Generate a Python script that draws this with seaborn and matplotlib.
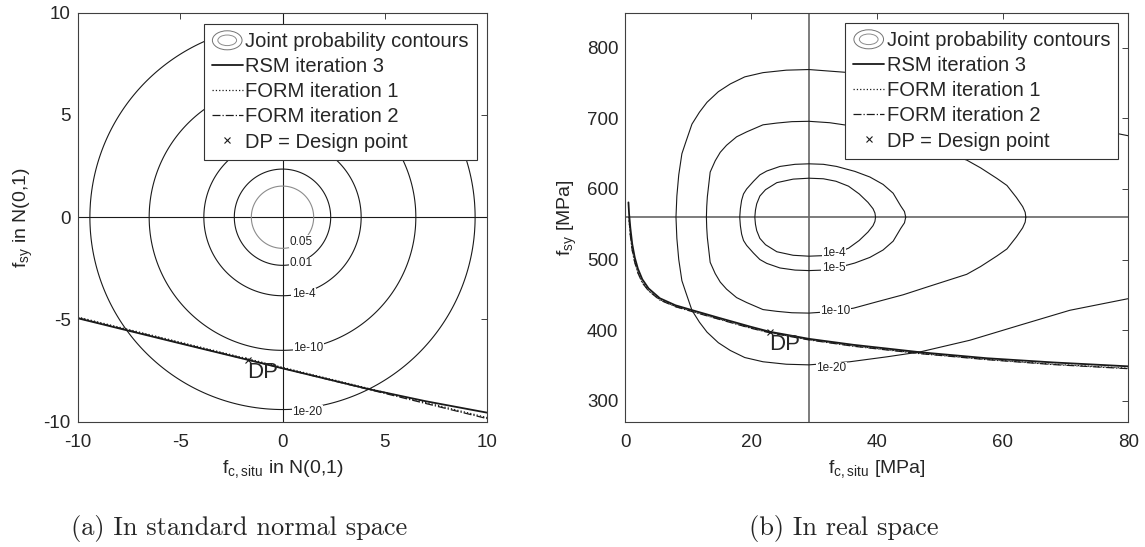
# two panels: limit state curves and joint probability contours
# (a) standard normal space, (b) real space

import numpy as np
import matplotlib
matplotlib.use('Agg')
import matplotlib.pyplot as plt
import seaborn as sns
from matplotlib.patches import Ellipse
from matplotlib.legend_handler import HandlerBase
from matplotlib.lines import Line2D

# ---------- (a) standard normal space ----------
prob_levels_a = [1e-20, 1e-10, 1e-4, 0.01, 0.05]
prob_labels_a = ['1e-20', '1e-10', '1e-4', '0.01', '0.05']

rsm_u1 = [-10, -5, -1.67, 0, 4.27, 7, 10]
rsm_u2 = [-4.94, -6.17, -6.98, -7.39, -8.42, -9.0, -9.56]
form1_u1 = [-10, 10]
form1_u2 = [-4.88, -9.80]
form2_u1 = [-10, 10]
form2_u2 = [-4.92, -9.85]
dp_u = [-1.67, -6.98]

# ---------- (b) real space ----------
fc_origin = 29.2     # f_c,situ at u1 = 0
fsy_origin = 560.0   # f_sy at u2 = 0

prob_labels_b = ['1e-4', '1e-5', '1e-10', '1e-20']
# contours: f_c,situ and half height in f_sy around fsy_origin
c4_fc = [20.6, 20.7, 20.9, 21.4, 22.3, 24.1, 26.7, 29.2, 31.5, 33.5, 35.5, 37.2, 38.6,
         39.4, 39.7, 39.8]
c4_half = [0, 10, 19, 30, 39, 49, 54, 55.3, 54.5, 51, 44, 33, 21, 12, 6, 0]
c5_fc = [18.2, 18.3, 18.5, 18.8, 19.3, 20.4, 21.4, 22.5, 24.6, 27.0, 29.2, 31.5, 33.6,
         36.5, 38.9, 41.0, 42.6, 43.8, 44.4, 44.6]
c5_half = [0, 12, 24, 33, 40, 51, 60, 65.5, 72, 75, 75.7, 75, 72, 65, 57, 46.5, 34, 16,
           8, 0]
c10_fc = [12.9, 12.95, 13.05, 13.5, 14.3, 15.1, 16.1, 17.7, 19.3, 21.9, 24.1, 26.5, 29.2,
          32.5, 36.3, 40.0, 44.2, 48.0, 52.2, 54.3, 56.5, 59.1, 60.7, 62.2, 63.2, 63.6,
          63.7]
c10_half = [0, 15, 29, 64, 80, 92, 102, 114, 121, 131, 133.5, 135.5, 136, 134, 129, 120,
            110, 99, 87, 81, 70, 55, 45, 28, 15, 7, 0]
c20_fc = [8.06, 8.2, 8.5, 9.0, 9.6, 10.6, 11.8, 13.0, 14.8, 16.7, 19.0, 21.9, 25.6, 29.2,
          35.7, 41.6, 46.9, 54.8, 62.8, 70.7, 80]
c20_half = [0, 30, 60, 90, 106, 132, 149, 163, 178, 189, 199, 205, 208.5, 209.4, 205, 198,
            191, 174.5, 153, 132, 115.5]

rsm_fc = [0.5, 0.6, 0.8, 1.1, 1.5, 2.0, 2.7, 3.7, 5.5, 8, 10.5, 15, 20, 23, 29.2, 36.3,
          46.9, 57.5, 68.1, 80]
rsm_fsy = [581, 565, 545, 522, 503, 487, 472, 459, 445, 435, 428.5, 417, 404.5, 397.5,
           387.5, 379, 368.5, 360, 354, 348.5]
form1_fc = [0.55, 0.8, 1.1, 1.5, 2.0, 2.7, 3.7, 5.5, 8, 10.5, 15, 20, 23, 29.2, 36.3, 46.9,
            57.5, 68.1, 80]
form1_fsy = [560, 535, 514, 497, 482, 468, 456, 443, 433.5, 427, 415.5, 403, 396.5, 386.5,
             377.5, 367, 358.5, 351.5, 345.8]
form2_fc = [0.6, 0.8, 1.1, 1.5, 2.0, 2.7, 3.7, 5.5, 8, 10.5, 15, 20, 23, 29.2, 36.3, 46.9,
            57.5, 68.1, 80]
form2_fsy = [557, 534, 513, 496, 481, 467, 455.5, 442.5, 433, 426.5, 415, 402.5, 396,
             386, 377, 366.5, 358, 351, 345.2]
dp_real = [23.0, 397.5]

legend_labels = ['Joint probability contours', 'RSM iteration 3', 'FORM iteration 1',
                 'FORM iteration 2', 'DP = Design point']


class HandlerRings(HandlerBase):
    # two grey ellipses like the MATLAB contour legend icon
    def create_artists(self, legend, orig_handle, xdescent, ydescent, width, height,
                       fontsize, trans):
        cx = -xdescent + width / 2
        cy = -ydescent + height / 2
        outer = Ellipse((cx, cy), width * 0.95, height * 1.35, fill=False,
                        ec='0.45', lw=0.7, transform=trans)
        inner = Ellipse((cx, cy), width * 0.6, height * 0.75, fill=False,
                        ec='0.55', lw=0.7, transform=trans)
        return [outer, inner]


sns.set_theme(style='white')
plt.rcParams['font.family'] = ['Liberation Sans', 'DejaVu Sans']
plt.rcParams['axes.unicode_minus'] = False

fig = plt.figure(figsize=(11.45, 5.47), dpi=100)
W, H = 1145, 547
ax1 = fig.add_axes([77.7 / W, 1 - 421.7 / H, 409.6 / W, 409 / H])
ax2 = fig.add_axes([625.3 / W, 1 - 421.7 / H, 503 / W, 409 / H])

frame_col = '#404040'
lab_fs = 14
for ax in (ax1, ax2):
    for sp in ax.spines.values():
        sp.set_color(frame_col)
        sp.set_linewidth(0.8)
    ax.tick_params(direction='in', length=4, width=0.7, color=frame_col,
                   top=True, right=True, labelsize=13.5, labelcolor='#262626')
    ax.tick_params(axis='y', pad=5)
    ax.tick_params(axis='x', pad=9)


def legend_for(ax, gap_x, gap_y):
    ring = Ellipse((0, 0), 1, 1)
    handles = [ring,
               Line2D([], [], color='k', lw=1.3),
               Line2D([], [], color='k', lw=0.9, ls=':'),
               Line2D([], [], color='k', lw=0.9, ls='-.'),
               Line2D([], [], ls='none', marker='x', color='k', ms=5, mew=0.8)]
    leg = ax.legend(handles, legend_labels, loc='upper right',
                    bbox_to_anchor=(1 - gap_x, 1 - gap_y), borderaxespad=0,
                    frameon=True, fancybox=False, framealpha=1, edgecolor='#333333',
                    fontsize=14.5, handlelength=1.55, handletextpad=0.12,
                    borderpad=0.4, labelspacing=0.3,
                    handler_map={ring: HandlerRings()})
    leg.get_frame().set_linewidth(0.8)
    leg.set_zorder(10)
    return leg


# ---------- panel (a) ----------
u = np.linspace(-10.5, 10.5, 700)
U1, U2 = np.meshgrid(u, u)
pdf = np.exp(-(U1 ** 2 + U2 ** 2) / 2) / (2 * np.pi)
ax1.contour(U1, U2, pdf, levels=prob_levels_a,
            colors=['k', 'k', 'k', 'k', '0.55'], linewidths=0.8)
ax1.axhline(0, color='k', lw=0.8, zorder=1.5)
ax1.axvline(0, color='k', lw=0.8, zorder=1.5)

lab_pos_a = [(1.21, -9.51), (1.26, -6.41), (1.02, -3.76), (0.91, -2.25), (0.89, -1.20)]
for lab, (lx, ly) in zip(prob_labels_a, lab_pos_a):
    ax1.text(lx, ly, lab, fontsize=8.5, ha='center', va='center', color='#222222',
             bbox=dict(boxstyle='square,pad=0.05', fc='white', ec='none'), zorder=3)

sns.lineplot(x=form1_u1, y=form1_u2, ax=ax1, color='k', lw=0.9, ls=':',
             sort=False, estimator=None)
sns.lineplot(x=form2_u1, y=form2_u2, ax=ax1, color='k', lw=0.9, ls='-.',
             sort=False, estimator=None)
sns.lineplot(x=rsm_u1, y=rsm_u2, ax=ax1, color='k', lw=1.3,
             sort=False, estimator=None)
ax1.plot([dp_u[0]], [dp_u[1]], ls='none', marker='x', color='k', ms=5, mew=0.8)
ax1.annotate('DP', xy=(dp_u[0], dp_u[1]), xytext=(-0.5, -1.5), textcoords='offset points',
             ha='left', va='top', fontsize=16)

ax1.set_xlim(-10, 10)
ax1.set_ylim(-10, 10)
ax1.set_xticks([-10, -5, 0, 5, 10])
ax1.set_yticks([-10, -5, 0, 5, 10])
ax1.set_xlabel(r'$\mathregular{f_{c,situ}}$ in N(0,1)', fontsize=lab_fs, labelpad=5)
ax1.set_ylabel(r'$\mathregular{f_{sy}}$ in N(0,1)', fontsize=lab_fs, labelpad=6)
legend_for(ax1, 10.5 / 409.6, 11.6 / 409)

# ---------- panel (b) ----------
ax2.axhline(fsy_origin, color='#666666', lw=1.2, zorder=1.5)
ax2.axvline(fc_origin, color='#666666', lw=1.2, zorder=1.5)

for cx, ch in [(c4_fc, c4_half), (c5_fc, c5_half), (c10_fc, c10_half), (c20_fc, c20_half)]:
    xs = list(cx[::-1]) + list(cx)
    ys = [fsy_origin + h for h in ch[::-1]] + [fsy_origin - h for h in ch]
    sns.lineplot(x=xs, y=ys, ax=ax2, color='k', lw=0.8, sort=False, estimator=None)

lab_pos_b = [(33.2, 509), (33.1, 487.5), (33.4, 427), (32.8, 346)]
for lab, (lx, ly) in zip(prob_labels_b, lab_pos_b):
    ax2.text(lx, ly, lab, fontsize=8.5, ha='center', va='center', color='#222222',
             bbox=dict(boxstyle='square,pad=0.05', fc='white', ec='none'), zorder=3)

sns.lineplot(x=form1_fc, y=form1_fsy, ax=ax2, color='k', lw=0.9, ls=':',
             sort=False, estimator=None)
sns.lineplot(x=form2_fc, y=form2_fsy, ax=ax2, color='k', lw=0.9, ls='-.',
             sort=False, estimator=None)
sns.lineplot(x=rsm_fc, y=rsm_fsy, ax=ax2, color='k', lw=1.3, sort=False, estimator=None)
ax2.plot([dp_real[0]], [dp_real[1]], ls='none', marker='x', color='k', ms=5, mew=0.8)
ax2.annotate('DP', xy=(dp_real[0], dp_real[1]), xytext=(-0.5, -1.5),
             textcoords='offset points', ha='left', va='top', fontsize=16)

ax2.set_xlim(0, 80)
ax2.set_ylim(270, 850)
ax2.set_xticks([0, 20, 40, 60, 80])
ax2.set_yticks([300, 400, 500, 600, 700, 800])
ax2.set_xlabel(r'$\mathregular{f_{c,situ}}$ [MPa]', fontsize=lab_fs, labelpad=5)
ax2.set_ylabel(r'$\mathregular{f_{sy}}$ [MPa]', fontsize=lab_fs, labelpad=6)
legend_for(ax2, 10 / 503, 10.6 / 409)

# captions
fig.text(239 / W, 1 - 528 / H, '(a) In standard normal space', family='cmr10',
         fontsize=19, ha='center', va='center')
fig.text(844 / W, 1 - 528 / H, '(b) In real space', family='cmr10',
         fontsize=19, ha='center', va='center')

fig.savefig('out.png', dpi=100)
